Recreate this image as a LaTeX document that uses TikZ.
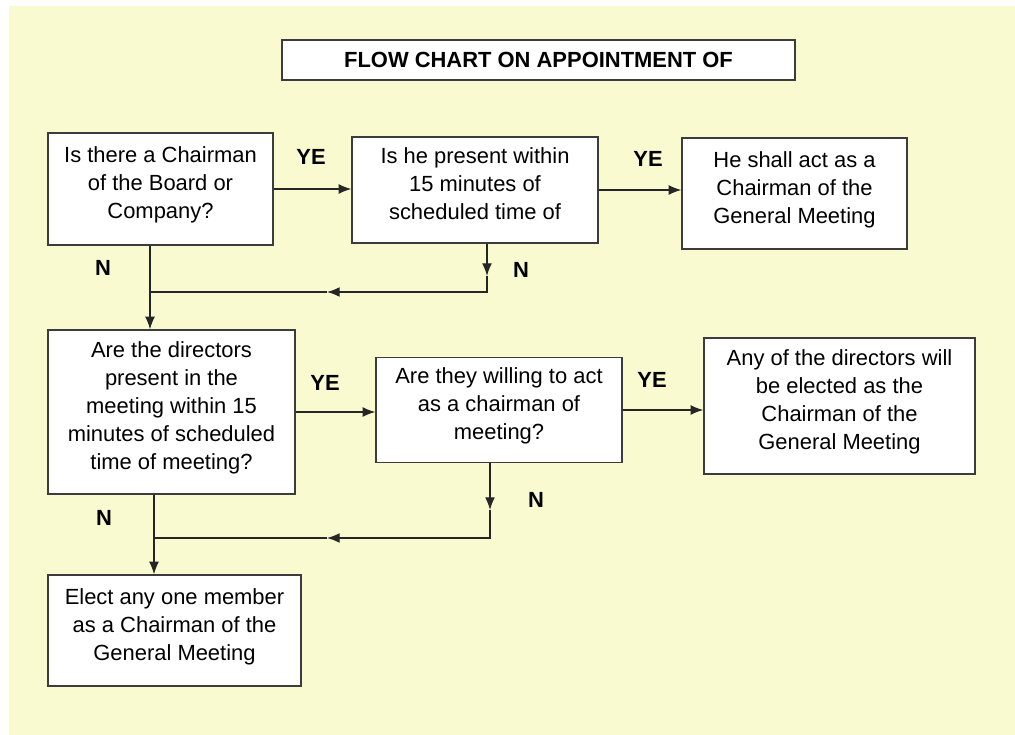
\documentclass[tikz,border=0pt]{standalone}
\usepackage{fontspec}
\setmainfont{Liberation Sans}
\usepackage{tikz}
\usetikzlibrary{shapes,arrows,arrows.meta}
\definecolor{pagebg}{RGB}{250,250,208}
\definecolor{edgegray}{RGB}{60,60,60}
\tikzstyle{block} = [rectangle, draw=edgegray, fill=white, line width=0.9pt,
    align=center, inner sep=0pt, text depth=0.3cm,
    font=\fontsize{15.6}{19.9}\selectfont]
\tikzstyle{answer} = [font=\fontsize{15.6}{19.9}\selectfont\bfseries]
\tikzstyle{line} = [draw, line width=0.9pt, color=black!85]

\begin{document}
\begin{tikzpicture}[x=0.025cm, y=-0.025cm, >={Latex[length=9pt,width=7pt]}]
    \useasboundingbox (0,0) rectangle (1015,735);
    \fill [pagebg] (9,6) rectangle (1015,735);
    % Place nodes
    \node [block, minimum width=12.825cm, minimum height=1cm, text depth=0pt, font=\fontsize{15.6}{19.9}\selectfont\bfseries]
        at (538.5,60) (title) {FLOW CHART ON APPOINTMENT OF};
    \node [block, minimum width=5.625cm, minimum height=2.8cm] at (160.5,189) (chair)
        {Is there a Chairman\\of the Board or\\Company?};
    \node [block, minimum width=6.15cm, minimum height=2.65cm] at (475,190) (present)
        {Is he present within\\15 minutes of\\scheduled time of};
    \node [block, minimum width=5.625cm, minimum height=2.775cm] at (794.5,193.5) (acts)
        {He shall act as a\\Chairman of the\\General Meeting};
    \node [block, minimum width=6.175cm, minimum height=4.1cm] at (171.5,412) (directors)
        {Are the directors\\present in the\\meeting within 15\\minutes of scheduled\\time of meeting?};
    \node [block, minimum width=6.15cm, minimum height=2.625cm] at (499,410) (willing)
        {Are they willing to act\\as a chairman of\\meeting?};
    \node [block, minimum width=6.775cm, minimum height=3.4cm] at (839.5,406) (elected)
        {Any of the directors will\\be elected as the\\Chairman of the\\General Meeting};
    \node [block, minimum width=6.325cm, minimum height=2.775cm] at (174.5,630.5) (member)
        {Elect any one member\\as a Chairman of the\\General Meeting};
    % Answers
    \node [answer] at (311,157) (yes1) {YE};
    \node [answer] at (648,159) (yes2) {YE};
    \node [answer] at (103,268) (no1) {N};
    \node [answer] at (521,270) (no2) {N};
    \node [answer] at (325,383) (yes3) {YE};
    \node [answer] at (652,380) (yes4) {YE};
    \node [answer] at (104,518) (no3) {N};
    \node [answer] at (536,500) (no4) {N};
    % Joints of the return lines
    \coordinate (joinA) at (150,292);
    \coordinate (cornerA) at (487,292);
    \coordinate (tipA) at (487,276);
    \coordinate (midA) at (327,292);
    \coordinate (joinB) at (154,538);
    \coordinate (cornerB) at (490,538);
    \coordinate (tipB) at (490,510);
    \coordinate (midB) at (327,538);
    % Draw edges
    \path [line, ->] (chair.east) -- (chair.east -| present.west);
    \path [line, ->] (present.east) -- (present.east -| acts.west);
    \path [line, ->] (directors.east) -- (directors.east -| willing.west);
    \path [line, ->] (willing.east) -- (willing.east -| elected.west);
    \path [line] (chair.south -| joinA) -- (joinA);
    \path [line, ->] (joinA) -- (joinA |- directors.north);
    \path [line, ->] (present.south -| tipA) -- (tipA);
    \path [line, ->] (tipA) -- (cornerA) -- (midA);
    \path [line] (midA) -- (joinA);
    \path [line] (directors.south -| joinB) -- (joinB);
    \path [line, ->] (joinB) -- (joinB |- member.north);
    \path [line, ->] (willing.south -| tipB) -- (tipB);
    \path [line, ->] (tipB) -- (cornerB) -- (midB);
    \path [line] (midB) -- (joinB);
\end{tikzpicture}
\end{document}
